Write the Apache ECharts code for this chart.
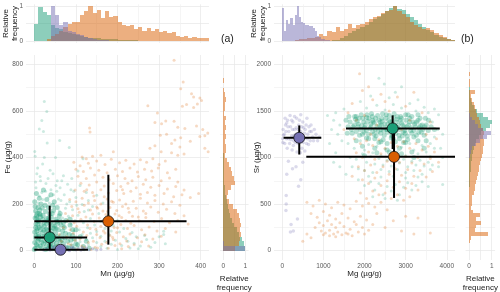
<!DOCTYPE html>
<html><head><meta charset="utf-8">
<script src="https://cdn.jsdelivr.net/npm/echarts@6/dist/echarts.min.js"></script>
<style>html,body{margin:0;padding:0;background:#fff}#c{width:500px;height:292px}</style>
</head><body><div id="c"></div>
<script>
// ---------- colours ----------
const TEAL = '#1b9e77', ORANGE = '#d95f02', PURPLE = '#7570b3';

// ---------- panel (a): Mn vs Fe (µg/g) ----------
const tealA = [[24,640],[30,598],[18,559],[12,522],[22,512],[31,462],[61,473],[84,443],[1,426],[2,405],[24,400],[51,400],[117,395],[20,372],[38,345],[105,342],[8,355],[45,330],[70,322],[90,310],[14,318],[55,300],[3,295],[28,288],[80,285],[110,280],[62,270],[40,262],[95,255],[125,250],[18,250],[72,240],[150,238],[35,232],[100,228],[58,222],[130,215],[85,210],[10,205],[165,205],[115,198],[140,190],[48,188],[75,182],[92,176],[60,170],[120,168],[155,160],[105,152],[178,150],[82,148],[68,140],[135,138],[98,130],[160,125],[118,120],[88,115],[145,110],[190,108],[72,105],[128,98],[170,95],[108,90],[95,85],[150,82],[205,80],[135,75],[115,70],[180,68],[160,62],[100,60],[140,55],[220,52],[125,48],[195,45],[170,40],[110,38],[150,35],[240,32],[185,28],[130,25],[210,22],[160,18],[105,15],[230,12],[175,10],[145,8],[200,5],[120,4],[255,20],[270,48],[311,83],[311,70],[290,35],[265,65],[235,78],[225,40],[250,8],[280,15],[315,30],[300,60],[185,85],[215,95],[245,60],[130,175],[175,120],[200,130],[6,330],[15,300],[33,310],[52,280],[66,300],[4,270],[27,255],[46,240],[88,262],[12,235],[64,215],[36,205],[102,195],[78,200],[20,220],[54,255]];
const tealCoreA = [[2,10],[5,25],[8,40],[3,55],[10,70],[6,85],[12,100],[4,115],[9,130],[15,145],[7,160],[13,175],[2,190],[18,12],[22,30],[16,48],[25,62],[20,78],[28,92],[17,108],[24,122],[30,138],[21,152],[27,168],[19,183],[33,8],[36,22],[31,38],[40,52],[35,68],[42,84],[38,98],[45,112],[32,128],[41,142],[37,158],[46,172],[50,15],[53,32],[48,45],[55,60],[51,75],[58,90],[49,105],[56,118],[52,135],[60,150],[0,5],[1,35],[4,65],[7,95],[11,125],[14,155],[3,170],[9,185],[26,195],[34,185],[44,195],[6,140],[10,50],[14,20],[19,60],[23,88],[29,115],[33,50],[39,30],[43,70],[47,95],[54,125],[57,20],[62,40],[65,65],[68,85],[64,110],[70,30],[74,55],[78,15],[66,8],[72,100],[61,130],[15,90],[26,42],[35,140],[8,115],[43,160],[20,135],[30,72],[5,150],[12,160],[38,118],[80,40],[84,70],[90,20],[96,50],[86,110],[76,130],[92,90],[100,30],[1,80],[3,100],[2,140],[16,200],[29,20],[45,25],[58,50],
[82,12],[88,45],[95,8],[104,25],[110,60],[118,18],[125,40],[132,10],[92,65],[100,90],[70,120],[62,160],[55,185],[48,210],[30,220],[12,225],[40,240],[22,260],[5,245],[75,75],[67,45],[59,5],[52,95],[86,135],[1,210],[8,20],[18,35],[27,5],[36,45],[44,8],[11,60],[24,105],[32,88],[40,15]];
const orangeA = [[336,817],[358,724],[352,695],[378,674],[383,660],[398,655],[402,645],[392,630],[366,628],[383,615],[356,620],[273,622],[296,591],[290,550],[306,545],[316,557],[336,556],[345,530],[362,525],[390,535],[405,520],[410,493],[398,490],[417,505],[133,527],[134,510],[318,500],[303,495],[338,475],[352,485],[330,460],[375,470],[350,445],[278,440],[290,450],[305,425],[330,420],[345,410],[360,415],[410,440],[418,425],[190,425],[160,410],[140,405],[115,402],[125,395],
[95,380],[110,365],[130,375],[150,385],[170,370],[185,392],[205,378],[220,388],[240,372],[255,390],[270,380],[285,395],[300,370],[315,385],[100,350],[118,340],[135,355],[155,345],[175,335],[195,350],[212,340],[230,355],[248,338],[265,350],[282,342],[298,355],[320,335],[340,350],[105,320],[125,310],[145,325],[165,315],[180,305],[200,322],[218,310],[235,300],[250,318],[268,305],[285,315],[305,300],[325,312],[345,295],[112,290],[132,282],[150,295],[168,278],[190,288],[208,275],[225,290],[245,270],[262,285],[280,272],[300,280],[320,265],[340,275],[360,260],[98,260],[120,255],[140,250],[160,262],[178,248],[198,258],[215,245],[232,255],[255,242],[272,250],[290,238],[312,245],[335,232],[355,240],[375,228],[395,245],
[85,220],[100,210],[115,225],[130,205],[145,215],[160,200],[175,222],[190,208],[205,218],[220,200],[238,212],[255,225],[272,205],[290,215],[310,200],[330,210],[350,195],[90,190],[105,180],[120,195],[135,175],[150,188],[165,170],[182,185],[198,172],[212,190],[228,165],[245,182],[262,170],[280,188],[298,165],[318,178],[338,160],[360,150],[75,160],[92,150],[108,165],[124,145],[140,158],[156,140],[172,155],[188,135],[204,150],[220,130],[236,148],[252,128],[268,142],[288,125],[306,138],[325,120],[345,130],[370,115],[80,130],[96,120],[112,135],[128,110],[144,125],[160,105],[176,118],[192,100],[208,112],[224,95],[240,108],[258,90],[276,102],[295,85],[315,95],[340,80],[70,100],[86,90],[102,105],[118,80],[134,95],[150,70],[166,85],[182,65],[198,78],[214,60],[230,72],[248,55],[266,68],[285,50],[305,62],[60,70],[78,60],[94,75],[110,50],[126,65],[142,40],[158,55],[174,35],[190,48],[206,30],[222,42],[240,25],[258,38],[275,20],[65,40],[82,30],[98,45],[114,20],[130,35],[146,15],[162,28],[178,10],[194,22],[210,8],[226,18],[55,20],[72,10],[88,25],[104,5],[120,15],[136,5],[152,12],
[168,232],[186,212],[152,182],[176,168],[194,158],[210,142],[164,128],[183,112],[200,98],[148,92],[170,76],[188,58],[232,118],[250,145],[268,160],[226,182],[143,235],[126,262],[212,262]];
const purpleA = [[22,3],[30,8],[38,2],[45,12],[50,5],[55,15],[58,1],[62,8],[66,3],[70,10],[74,4],[78,14],[82,2],[88,7],[94,11],[100,3],[106,9],[112,2],[118,6],[125,12],[132,4],[140,8],[48,18],[60,20],[72,22],[90,16],[42,6],[68,0],[85,0],[115,14],[150,3],[160,6]];
// summary: [mean Mn, mean Fe, Mn low, Mn high, Fe low, Fe high]
const summaryTealA   = [37, 57, 0, 127, 4, 193];
const summaryOrangeA = [178, 126, 0, 366, 26, 326];
const summaryPurpleA = [63, 4, 0, 129, -4, 12];
// histograms [bin start, relative frequency]
const binMn = 10, binFe = 20;
const histMnTeal = [[0,0.48],[10,0.97],[20,0.82],[30,0.74],[40,0.45],[50,0.38],[60,0.33],[70,0.27],[80,0.22],[90,0.19],[100,0.16],[110,0.14],[120,0.12],[130,0.1],[140,0.09],[150,0.08],[160,0.07],[170,0.06],[180,0.05],[190,0.045],[200,0.04],[210,0.03],[220,0.03],[230,0.02],[240,0.02],[250,0.015],[260,0.015],[270,0.01],[280,0.01],[290,0.01],[300,0.01],[310,0.01]];
const histMnOrange = [[30,0.05],[40,0.15],[50,0.2],[60,0.3],[70,0.4],[80,0.5],[90,0.55],[100,0.55],[110,0.75],[120,0.85],[130,1.0],[140,0.8],[150,0.9],[160,0.65],[170,0.85],[180,0.7],[190,0.72],[200,0.55],[210,0.45],[220,0.42],[230,0.45],[240,0.35],[250,0.4],[260,0.3],[270,0.38],[280,0.3],[290,0.35],[300,0.25],[310,0.3],[320,0.22],[330,0.25],[340,0.15],[350,0.12],[360,0.14],[370,0.1],[380,0.12],[390,0.08],[400,0.1],[410,0.1]];
const histMnPurple = [[40,1.0],[50,0.75],[60,0.45],[70,0.55],[80,0.3],[90,0.25],[100,0.2],[110,0.16],[120,0.12],[130,0.08],[140,0.05],[150,0.04],[160,0.03],[170,0.02]];
const histFeTeal = [[0,1.0],[20,0.92],[40,0.85],[60,0.72],[80,0.6],[100,0.5],[120,0.4],[140,0.32],[160,0.26],[180,0.2],[200,0.15],[220,0.12],[240,0.09],[260,0.07],[280,0.05],[300,0.04],[320,0.03],[340,0.025],[360,0.02],[380,0.015],[400,0.01]];
const histFeOrange = [[0,0.55],[20,0.7],[40,0.78],[60,0.8],[80,0.75],[100,0.82],[120,0.78],[140,0.7],[160,0.6],[180,0.45],[200,0.25],[220,0.18],[240,0.22],[260,0.35],[280,0.55],[300,0.5],[320,0.4],[340,0.35],[360,0.25],[380,0.15],[400,0.08],[420,0.12],[440,0.1],[460,0.06],[480,0.1],[500,0.08],[520,0.12],[540,0.06],[560,0.1],[580,0.05],[600,0.08],[620,0.06],[640,0.1],[660,0.08],[680,0.04],[720,0.05]];
const histFePurple = [[0,1.0],[20,0.05]];

// ---------- panel (b): Mg vs Sr (µg/g) ----------
const tealCoreB = [[1650,1380],[1720,1330],[1780,1410],[1850,1360],[1900,1300],[1960,1420],[2020,1350],[2080,1390],[2130,1310],[2190,1440],[2240,1370],[2300,1330],[2350,1400],[2410,1350],[2460,1290],[2520,1420],[2570,1360],[2630,1320],[2680,1390],[2740,1340],[2790,1410],[2850,1300],[2900,1370],[2960,1330],[3010,1400],[3070,1350],[3120,1290],[3180,1380],[3240,1330],[3300,1400],[3360,1340],[3420,1300],[1700,1260],[1800,1280],[1880,1240],[1990,1270],[2100,1250],[2200,1280],[2280,1230],[2390,1260],[2480,1240],[2560,1270],[2660,1230],[2760,1260],[2840,1240],[2940,1270],[3040,1230],[3150,1260],[3260,1240],[3380,1270],[1760,1440],[1920,1460],[2050,1430],[2170,1470],[2320,1450],[2440,1470],[2600,1450],[2720,1470],[2880,1440],[3000,1460],[3150,1440],[3300,1460],[2000,1320],[2150,1360],[2260,1300],[2380,1380],[2500,1320],[2620,1380],[2700,1300],[2820,1350],[2980,1290],[3100,1420],[3220,1360],[2050,1210],[2250,1200],[2450,1190],[2650,1210],[2850,1200],[3050,1190],[2350,1160],[2550,1150],[2750,1170],[2950,1160],[1600,1330],[1550,1400],[3500,1350],[3550,1290],[3480,1420],[1840,1330],[2420,1420],[2900,1420],[2560,1300],[2700,1430],[2200,1400],[3330,1320],
[1750,1350],[1820,1390],[1870,1420],[1930,1340],[1980,1380],[2040,1290],[2110,1420],[2160,1330],[2210,1380],[2270,1420],[2330,1280],[2370,1340],[2430,1390],[2490,1360],[2540,1300],[2590,1400],[2650,1350],[2710,1270],[2770,1380],[2810,1320],[2870,1400],[2930,1350],[2990,1260],[3030,1330],[3090,1380],[3140,1320],[3200,1290],[3270,1380],[3320,1270],[3400,1350],[3460,1330],[1680,1300],[1800,1440],[1950,1250],[2060,1460],[2230,1250],[2400,1300],[2530,1460],[2680,1240],[2800,1440],[2920,1230],[3060,1460],[3200,1220],[3350,1420],[3450,1240],[3560,1400],[3620,1330],[3700,1300],[1580,1260],[1620,1440],
[1800,1180],[1950,1120],[2100,1200],[2250,1100],[2400,1170],[2550,1080],[2700,1200],[2850,1100],[3000,1160],[3150,1060],[3300,1180],[3450,1100],[2000,1020],[2300,1050],[2600,1060],[2900,1040],[3200,1000],[3500,1180]];
const tealB = [[2350,1850],[2480,1790],[2900,1760],[2750,1700],[2150,1660],[2600,1640],[3300,1620],[3100,1580],[1900,1600],[2300,1560],[2700,1570],[3450,1540],[3700,1520],[1500,1520],[2050,1530],[2500,1510],[2900,1530],[3250,1500],[3550,1480],[3800,1460],[1300,1480],[1100,1450],[1250,1400],[1400,1350],[1350,1250],[1200,1300],[1450,1180],[3650,1380],[3780,1300],[3900,1250],[3700,1220],[3600,1150],[3850,1100],
[1600,1150],[1750,1100],[1900,1180],[2000,1080],[2100,1140],[2200,1050],[2300,1120],[2400,1020],[2500,1090],[2600,1000],[2700,1130],[2800,1060],[2900,1110],[3000,1020],[3100,1150],[3200,1080],[3300,1040],[3400,1130],[3500,1060],[3600,1010],[3700,1100],[1650,1000],[1800,980],[1950,1040],[2050,950],[2150,1010],[2250,930],[2350,990],[2450,920],[2550,970],[2650,910],[2750,990],[2850,940],[2950,980],[3050,900],[3150,960],[3250,920],[3350,970],[3450,910],[3550,950],[3650,920],[1700,900],[1850,880],[2000,860],[2200,840],[2400,870],[2600,850],[2800,870],[3000,840],[3200,860],[3400,820],[3600,870],[3800,900],[3900,1000],
[1850,760],[2000,700],[2150,740],[2250,650],[2350,720],[2450,600],[2550,690],[2650,640],[2750,710],[2850,600],[2950,680],[3050,730],[3150,650],[3250,700],[3400,740],[3550,690],[3900,710],[2200,580],[2500,560],[2800,540],[2100,800],[2400,790],[2700,800],[3000,780],[3300,790],[1550,820],[1400,900],[1300,1050],[1250,950],[1150,1150]];
const orangeB = [[1880,1900],[2100,1760],[1950,1720],[2400,1680],[3200,1700],[2200,1620],[2800,1650],[1700,1580],[2500,1600],[3000,1550],[1600,1480],[2000,1450],[2600,1500],[3400,1480],[1800,1400],[2300,1350],[3100,1400],[3600,1380],[1500,1300],[2150,1250],[2900,1300],[3500,1250],[3750,1200],
[1750,1200],[1900,1150],[2050,1180],[2200,1130],[2350,1190],[2500,1100],[2650,1160],[2800,1120],[2950,1170],[3100,1100],[3250,1150],[3400,1080],[3550,1120],[3700,1060],[1800,1050],[1950,1000],[2100,1060],[2250,980],[2400,1040],[2550,960],[2700,1020],[2850,950],[3000,1010],[3150,940],[3300,1000],[3450,930],[3600,990],[3800,950],[1850,900],[2000,860],[2150,920],[2300,840],[2450,900],[2600,820],[2750,880],[2900,810],[3050,870],[3200,800],[3350,860],[3500,790],[3650,850],[1700,800],[1950,760],[2100,720],[2250,780],[2400,700],[2550,750],[2700,680],[2850,740],[3000,670],[3150,720],[3300,650],[2200,640],[2350,600],[2500,620],[2650,560],[2800,600],[2950,540],[3100,580],[2050,560],[1900,620],
[600,520],[750,480],[900,540],[1050,500],[1200,460],[1350,520],[1500,490],[1650,450],[1800,530],[1950,480],[2100,510],[2250,470],[2400,520],[2550,440],[700,400],[850,360],[1000,420],[1150,380],[1300,340],[1450,400],[1600,350],[1750,310],[1900,370],[2050,330],[900,300],[1000,270],[1100,320],[1200,280],[1300,250],[1400,300],[1500,260],[1650,230],[1800,280],[1950,250],[2100,220],[800,250],[950,210],[1050,190],[1150,220],[1250,180],[1350,200],[1450,170],[1550,190],[1700,160],[1850,200],[2000,180],[600,180],[700,140],[500,100],[1000,170],[1150,160],[1300,150],[1600,180],[2500,250],[2900,210],[3200,180],[3600,190],[2700,320],[3000,370],[3300,350],[2300,400],[2200,280]];
const purpleB = [[20,1300],[50,1250],[80,1350],[100,1200],[130,1400],[160,1280],[180,1150],[200,1330],[230,1230],[260,1380],[280,1180],[300,1300],[330,1250],[350,1420],[380,1150],[400,1350],[420,1220],[450,1280],[480,1100],[500,1380],[530,1200],[560,1300],[590,1150],[620,1250],[650,1330],[680,1180],[710,1280],[740,1220],[780,1300],[820,1250],[860,1180],[900,1220],[60,1150],[120,1100],[240,1080],[360,1060],[440,1050],[550,1070],[70,1420],[190,1450],[300,1440],[450,1460],[600,1420],[10,1200],[150,1200],[250,1300],[350,1200],[480,1240],[380,1300],[520,1320],[270,1130],[640,1140],[700,1350],[420,1400],
[30,1240],[90,1280],[140,1330],[210,1190],[290,1240],[340,1320],[410,1180],[470,1330],[540,1260],[610,1200],[670,1280],[760,1180],[15,1160],[110,1370],[230,1400],[320,1160],[510,1160],[580,1350],
[97,591],[97,500],[90,430],[215,280],[200,200],[270,210],[370,340],[397,692],[110,820],[335,900],[150,960],[450,760],[250,880],[500,950]];
const summaryTealB   = [2684, 1312, 1550, 3830, 1090, 1452];
const summaryOrangeB = [2718, 1007, 585, 4230, 566, 1300];
const summaryPurpleB = [414, 1212, 32, 950, 1032, 1344];
const binMgP = 50, binMg = 100, binSr = 40;
const histMgPurple = [[0,0.95],[50,0.3],[100,0.6],[150,0.5],[200,0.65],[250,0.45],[300,0.75],[350,1.0],[400,0.7],[450,0.55],[500,0.52],[550,0.45],[600,0.47],[650,0.42],[700,0.44],[750,0.38],[800,0.3],[850,0.15],[900,0.12],[950,0.07],[1000,0.05],[1050,0.03],[1100,0.02]];
const histMgOrange = [[300,0.02],[400,0.05],[500,0.06],[600,0.08],[700,0.1],[800,0.12],[900,0.2],[1000,0.15],[1100,0.3],[1200,0.25],[1300,0.4],[1400,0.3],[1500,0.35],[1600,0.5],[1700,0.38],[1800,0.45],[1900,0.5],[2000,0.55],[2100,0.62],[2200,0.7],[2300,0.72],[2400,0.8],[2500,0.85],[2600,0.9],[2700,1.0],[2800,0.85],[2900,0.78],[3000,0.7],[3100,0.55],[3200,0.45],[3300,0.4],[3400,0.35],[3500,0.38],[3600,0.32],[3700,0.22],[3800,0.18],[3900,0.12],[4000,0.06],[4100,0.03]];
const histMgTeal = [[1100,0.01],[1200,0.02],[1300,0.04],[1400,0.08],[1500,0.15],[1600,0.22],[1700,0.3],[1800,0.35],[1900,0.4],[2000,0.45],[2100,0.55],[2200,0.62],[2300,0.7],[2400,0.78],[2500,0.85],[2600,0.95],[2700,1.0],[2800,0.92],[2900,0.88],[3000,0.78],[3100,0.7],[3200,0.6],[3300,0.5],[3400,0.4],[3500,0.32],[3600,0.25],[3700,0.18],[3800,0.12],[3900,0.08],[4000,0.05],[4100,0.02]];
const histSrOrange = [[80,0.03],[120,0.1],[160,0.82],[200,0.25],[240,0.3],[280,0.55],[320,0.3],[360,0.5],[400,0.18],[440,0.1],[480,0.15],[520,0.12],[560,0.15],[600,0.2],[640,0.25],[680,0.28],[720,0.3],[760,0.35],[800,0.38],[840,0.45],[880,0.42],[920,0.5],[960,0.55],[1000,0.58],[1040,0.6],[1080,0.62],[1120,0.65],[1160,0.68],[1200,0.6],[1240,0.65],[1280,0.6],[1320,0.55],[1360,0.5],[1400,0.45],[1440,0.35],[1480,0.3],[1520,0.25],[1560,0.2],[1600,0.15],[1640,0.1],[1680,0.25],[1760,0.05],[1800,0.03],[1880,0.05]];
const histSrTeal = [[560,0.01],[600,0.02],[640,0.02],[680,0.03],[720,0.04],[760,0.05],[800,0.06],[840,0.07],[880,0.08],[920,0.1],[960,0.13],[1000,0.15],[1040,0.18],[1080,0.22],[1120,0.26],[1160,0.32],[1200,0.42],[1240,0.55],[1280,0.75],[1320,0.92],[1360,1.0],[1400,0.85],[1440,0.6],[1480,0.35],[1520,0.2],[1560,0.12],[1600,0.08],[1640,0.06],[1680,0.04],[1720,0.03],[1760,0.02]];
const histSrPurple = [[1000,0.03],[1040,0.08],[1080,0.15],[1120,0.3],[1160,0.5],[1200,0.8],[1240,0.95],[1280,0.6],[1320,0.4],[1360,0.25],[1400,0.12],[1440,0.05]];

// ---------- helpers ----------
const GRID_MAJOR = '#e6e6e6', GRID_MINOR = '#f1f1f1', NONE = 'rgba(0,0,0,0)';
function gridColors(period, majorAt, minorAt) {
  const a = [];
  for (let i = 0; i < period; i++) a.push(i === majorAt ? GRID_MAJOR : (i === minorAt ? GRID_MINOR : NONE));
  return a;
}
const FONT = 'Liberation Sans, Arial, sans-serif';
const tickFont = {fontSize: 6.5, color: '#5a5a5a', fontFamily: FONT};
const nameFont = {fontSize: 8, color: '#222', fontFamily: FONT, lineHeight: 9};
function axis(o) {
  return Object.assign({
    type: 'value', axisLine: {show: false}, axisTick: {show: false},
    splitLine: {show: true, lineStyle: {width: 0.7, color: o.colors}},
    axisLabel: {show: !!o.labelEvery, margin: o.margin || 3, ...tickFont,
      formatter: v => { if (!o.labelEvery) return ''; const r = v / o.labelEvery; return Math.abs(r - Math.round(r)) < 1e-6 ? String(Math.round(v)) : ''; }},
    nameTextStyle: nameFont, nameLocation: 'middle', nameMoveOverlap: false
  }, o.extra);
}
function hist(xi, yi, data, bw, color, vertical) {
  return {
    type: 'custom', xAxisIndex: xi, yAxisIndex: yi, data, silent: true, z: 2,
    encode: vertical ? {x: 1, y: 0} : {x: 0, y: 1},
    renderItem: (p, api) => {
      const lo = api.value(0), f = api.value(1);
      const a = vertical ? api.coord([0, lo]) : api.coord([lo, 0]);
      const b = vertical ? api.coord([f, lo + bw]) : api.coord([lo + bw, f]);
      const x0 = Math.round(Math.min(a[0], b[0])), x1 = Math.round(Math.max(a[0], b[0]));
      const y0 = Math.round(Math.min(a[1], b[1])), y1 = Math.round(Math.max(a[1], b[1]));
      return {type: 'rect', shape: {x: x0, y: y0, width: x1 - x0, height: y1 - y0}, style: {fill: color, opacity: 0.5}};
    }
  };
}
function pts(xi, yi, data, color, op, size) {
  return {type: 'scatter', xAxisIndex: xi, yAxisIndex: yi, data, symbolSize: size || 3, silent: true, z: 3,
    itemStyle: {color, opacity: op}};
}
function bars(xi, yi, rows) {
  return {
    type: 'custom', xAxisIndex: xi, yAxisIndex: yi, data: rows, clip: true, silent: true, z: 5,
    dimensions: ['x','y','xlo','xhi','ylo','yhi'], encode: {x: 0, y: 1},
    renderItem: (p, api) => {
      const x = api.value(0), y = api.value(1);
      const l = api.coord([api.value(2), y]), r = api.coord([api.value(3), y]);
      const b = api.coord([x, api.value(4)]), t = api.coord([x, api.value(5)]);
      const st = {stroke: '#000', lineWidth: 2};
      return {type: 'group', children: [
        {type: 'line', shape: {x1: l[0], y1: l[1], x2: r[0], y2: r[1]}, style: st},
        {type: 'line', shape: {x1: b[0], y1: b[1], x2: t[0], y2: t[1]}, style: st}
      ]};
    }
  };
}
function means(xi, yi, rows, colors) {
  return {type: 'scatter', xAxisIndex: xi, yAxisIndex: yi, z: 6, silent: true, symbolSize: 11,
    data: rows.map((r, i) => ({value: [r[0], r[1]], itemStyle: {color: colors[i]}})),
    itemStyle: {borderColor: '#111', borderWidth: 0.8, opacity: 1}};
}

const MnAx = {min: -20, max: 420, interval: 10, colors: gridColors(10, 2, 7)};
const FeAx = {min: -40, max: 840, interval: 20, colors: gridColors(10, 2, 7)};
const MgAx = {min: -200, max: 4200, interval: 100, colors: gridColors(10, 2, 7)};
const SrAx = {min: -100, max: 2100, interval: 50, colors: gridColors(10, 2, 7)};
const RelY = {min: -0.05, max: 1.05, interval: 0.05};
const RelX = {min: -0.15, max: 1.15, interval: 0.05};
RelY.colors = (() => { const a = []; for (let i = 0; i < 20; i++) a.push(i === 1 || i === 11 ? GRID_MAJOR : NONE); return a; })();
RelX.colors = (() => { const a = []; for (let i = 0; i < 20; i++) a.push(i === 3 || i === 13 ? GRID_MAJOR : NONE); return a; })();
function ax(base, gi, labelEvery, extra, margin) {
  return axis({colors: base.colors, labelEvery, margin, extra: Object.assign({gridIndex: gi, min: base.min, max: base.max, interval: base.interval}, extra || {})});
}

const gridBase = {containLabel: false, outerBoundsMode: 'none'};
const option = {
  animation: false,
  backgroundColor: '#fff',
  grid: [
    Object.assign({left: 26, top: 55, width: 183, height: 205}, gridBase),
    Object.assign({left: 26, top: 4.3, width: 183, height: 38.5}, gridBase),
    Object.assign({left: 220, top: 55, width: 28.6, height: 205}, gridBase),
    Object.assign({left: 274, top: 55, width: 181, height: 205}, gridBase),
    Object.assign({left: 274, top: 4.3, width: 181, height: 38.5}, gridBase),
    Object.assign({left: 465.6, top: 55, width: 29.5, height: 205}, gridBase)
  ],
  xAxis: [
    ax(MnAx, 0, 100, {name: 'Mn (µg/g)', nameGap: 9}),
    ax(MnAx, 1, 0),
    ax(RelX, 2, 1, {name: 'Relative\nfrequency', nameGap: 14.5}),
    ax(MgAx, 3, 1000, {name: 'Mg (µg/g)', nameGap: 9}),
    ax(MgAx, 4, 0),
    ax(RelX, 5, 1, {name: 'Relative\nfrequency', nameGap: 14.5})
  ],
  yAxis: [
    ax(FeAx, 0, 200, {name: 'Fe (µg/g)', nameGap: 13.5}),
    ax(RelY, 1, 1, {name: 'Relative\nfrequency', nameGap: 7}),
    ax(FeAx, 2, 0),
    ax(SrAx, 3, 500, {name: 'Sr (µg/g)', nameGap: 12.5}),
    ax(RelY, 4, 1, {name: 'Relative\nfrequency', nameGap: 7}),
    ax(SrAx, 5, 0)
  ],
  graphic: [
    {type: 'text', left: 221, top: 34, style: {text: '(a)', fontSize: 10.5, fill: '#222', fontFamily: FONT}},
    {type: 'text', left: 461, top: 34, style: {text: '(b)', fontSize: 10.5, fill: '#222', fontFamily: FONT}}
  ],
  series: [
    pts(0, 0, tealA, TEAL, 0.22), pts(0, 0, tealCoreA, TEAL, 0.38, 5), pts(0, 0, orangeA, ORANGE, 0.24), pts(0, 0, purpleA, PURPLE, 0.35),
    bars(0, 0, [summaryTealA, summaryOrangeA, summaryPurpleA]),
    means(0, 0, [summaryTealA, summaryOrangeA, summaryPurpleA], [TEAL, ORANGE, PURPLE]),
    hist(1, 1, histMnTeal, binMn, TEAL), hist(1, 1, histMnOrange, binMn, ORANGE), hist(1, 1, histMnPurple, binMn, PURPLE),
    hist(2, 2, histFeTeal, binFe, TEAL, true), hist(2, 2, histFeOrange, binFe, ORANGE, true), hist(2, 2, histFePurple, binFe, PURPLE, true),
    pts(3, 3, tealB, TEAL, 0.22), pts(3, 3, tealCoreB, TEAL, 0.32, 5), pts(3, 3, orangeB, ORANGE, 0.24), pts(3, 3, purpleB, PURPLE, 0.26, 3.5),
    bars(3, 3, [summaryTealB, summaryOrangeB, summaryPurpleB]),
    means(3, 3, [summaryTealB, summaryOrangeB, summaryPurpleB], [TEAL, ORANGE, PURPLE]),
    hist(4, 4, histMgTeal, binMg, TEAL), hist(4, 4, histMgOrange, binMg, ORANGE), hist(4, 4, histMgPurple, binMgP, PURPLE),
    hist(5, 5, histSrTeal, binSr, TEAL, true), hist(5, 5, histSrOrange, binSr, ORANGE, true), hist(5, 5, histSrPurple, binSr, PURPLE, true)
  ]
};
const chart = echarts.init(document.getElementById('c'), null, {renderer: 'canvas'});
chart.setOption(option);
</script>
</body></html>
